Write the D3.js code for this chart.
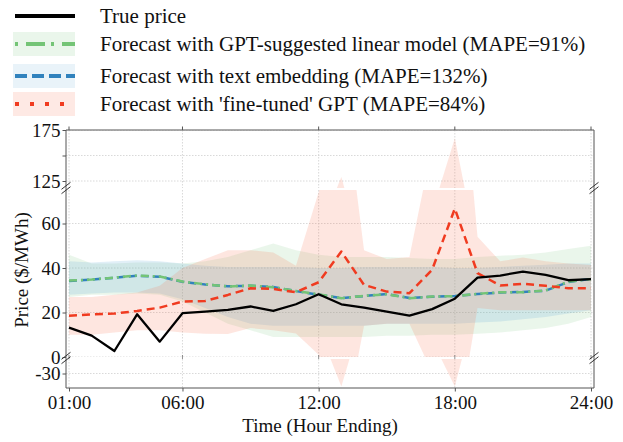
<!DOCTYPE html>
<html><head><meta charset="utf-8">
<script src="https://cdn.jsdelivr.net/npm/d3@7"></script>
<style>
html,body{margin:0;padding:0;background:#fff;}
svg{display:block;font-family:"Liberation Serif","Times New Roman",serif;}
</style></head>
<body><svg id="c" width="623" height="442"></svg>
<script>
const hours = d3.range(1, 25);
const xTickValues = [1, 6, 12, 18, 24];
const xTickLabels = ["01:00", "06:00", "12:00", "18:00", "24:00"];

const truePrice = [13.2, 9.6, 2.7, 19.2, 6.9, 19.7, 20.4, 21.2, 22.7, 20.7, 23.7, 28.2, 23.7, 22.2, 20.4, 18.6, 21.5, 26.2, 35.7, 36.6, 38.4, 36.9, 34.5, 35.0];

const gptLinear   = [34.4, 34.8, 35.7, 36.6, 36.2, 33.9, 32.7, 31.7, 32.1, 31.4, 29.7, 28.2, 26.4, 27.5, 28.2, 26.4, 27.2, 27.3, 28.4, 29.1, 29.1, 29.9, 33.9, 35.0];
const gptLinearLo = [27, 28, 28, 28.5, 28, 25, 20, 15, 12, 9, 9, 9, 9, 9, 9.5, 9.5, 10, 10, 10.5, 11, 12, 13, 15, 18];
const gptLinearHi = [46, 42, 42, 42.5, 42.5, 42, 43, 45, 48, 51, 48, 46, 45, 45, 45, 44.5, 44, 44, 45, 45.5, 46, 47, 48.5, 50];

const embedding   = [34.2, 34.8, 35.6, 36.5, 36.1, 33.8, 32.6, 31.8, 32.0, 31.5, 29.6, 28.0, 26.5, 27.4, 28.3, 26.5, 27.1, 27.4, 28.3, 29.0, 29.2, 29.8, 33.7, 35.1];
const embeddingLo = [28, 28.5, 29, 29, 28.5, 26, 22, 18, 15, 14, 14, 14, 14, 14, 15, 15, 15, 15, 15.5, 16, 17, 18, 19.5, 21];
const embeddingHi = [43, 42.5, 43, 43.5, 43, 42, 41, 40.5, 40.5, 40.5, 40.5, 40, 40, 40.5, 40.5, 40.5, 40.5, 40, 40, 40.5, 41, 41.5, 42, 42];

const fineTuned   = [18.5, 19.2, 19.5, 20.7, 22.2, 24.9, 25.2, 27.9, 30.9, 30.6, 29.1, 33.6, 47.4, 32.4, 29.4, 28.7, 39.2, 66.7, 37.7, 32.1, 32.9, 32.0, 30.9, 30.9];
const fineTunedLo = [10, 10, 11, 12, 12, 11, 10.5, 10.3, 13, 12, 10.6, 1, -39, 14, 15, 15, -7, -39, 22, 21, 21, 21, 21, 21];
const fineTunedHi = [27, 27, 28, 29, 32, 40, 44, 48, 48, 47, 41, 74, 129, 48, 44, 45, 95, 167, 54, 43, 44.7, 43, 42, 41.4];

const legendLabels = ["True price", "Forecast with GPT-suggested linear model (MAPE=91%)", "Forecast with text embedding (MAPE=132%)", "Forecast with 'fine-tuned' GPT (MAPE=84%)"];

const svg = d3.select("#c");
const X0 = 66, X1 = 594;
const x = d3.scaleLinear().domain([1, 24]).range([69, 591]);

const panels = [
  {id: "top", y: d3.scaleLinear().domain([125, 175]).range([181, 130]), clip: [130, 188], ticks: [125, 150, 175], labels: {125: "125", 175: "175"}},
  {id: "mid", y: d3.scaleLinear().domain([0, 60]).range([357, 223.5]), clip: [190, 357], ticks: [0, 20, 40, 60], labels: {0: "0", 20: "20", 40: "40", 60: "60"}},
  {id: "bot", y: d3.scaleLinear().domain([-40, -20]).range([388, 359]), clip: [359, 388], ticks: [-30], labels: {"-30": "-30"}}
];

const bands = [
  {lo: gptLinearLo, hi: gptLinearHi, color: "#74c476", op: 0.15},
  {lo: embeddingLo, hi: embeddingHi, color: "#6baed6", op: 0.2},
  {lo: fineTunedLo, hi: fineTunedHi, color: "#fb6a4a", op: 0.17}
];
const lines = [
  {v: embedding, color: "#3182bd", dash: "8,4", w: 2.5},
  {v: gptLinear, color: "#74c476", dash: "8,4,2,4", w: 2.5},
  {v: fineTuned, color: "#f03b20", dash: "8,5", w: 2.5},
  {v: truePrice, color: "#000", dash: null, w: 2.3}
];

const defs = svg.append("defs");
const grid = "#cfcfcf";

panels.forEach(p => {
  defs.append("clipPath").attr("id", "clip-" + p.id)
    .append("rect").attr("x", X0).attr("y", p.clip[0]).attr("width", X1 - X0).attr("height", p.clip[1] - p.clip[0]);
  const g = svg.append("g").attr("clip-path", "url(#clip-" + p.id + ")");
  xTickValues.forEach(t => g.append("line").attr("x1", x(t)).attr("x2", x(t)).attr("y1", p.clip[0]).attr("y2", p.clip[1])
    .attr("stroke", grid).attr("stroke-width", 0.8).attr("stroke-dasharray", "1.5,1.5"));
  p.ticks.forEach(t => g.append("line").attr("x1", X0).attr("x2", X1).attr("y1", p.y(t)).attr("y2", p.y(t))
    .attr("stroke", grid).attr("stroke-width", 0.8).attr("stroke-dasharray", "1.5,1.5"));
  bands.forEach(b => {
    const area = d3.area().x((d, i) => x(hours[i])).y0((d, i) => p.y(b.lo[i])).y1((d, i) => p.y(b.hi[i]));
    g.append("path").attr("d", area(hours)).attr("fill", b.color).attr("fill-opacity", b.op);
  });
  lines.forEach(l => {
    const ln = d3.line().x((d, i) => x(hours[i])).y((d, i) => p.y(l.v[i]));
    g.append("path").attr("d", ln(hours)).attr("fill", "none").attr("stroke", l.color)
      .attr("stroke-width", l.w).attr("stroke-dasharray", l.dash).attr("stroke-linejoin", "round");
  });
  const ax = svg.append("g").attr("transform", `translate(${X0},0)`)
    .call(d3.axisLeft(p.y).tickValues(p.ticks).tickSize(3.5).tickPadding(2)
      .tickFormat(d => p.labels[d] !== undefined ? p.labels[d] : ""));
  ax.select(".domain").remove();
  ax.selectAll(".tick line").attr("stroke", "#555");
  ax.selectAll("text").attr("font-size", 19).attr("fill", "#111")
    .attr("font-family", "Liberation Serif, serif");
});

const spine = "#555";
svg.append("line").attr("x1", X0).attr("x2", X0).attr("y1", 130).attr("y2", 388).attr("stroke", spine).attr("stroke-width", 1);
svg.append("line").attr("x1", X1).attr("x2", X1).attr("y1", 130).attr("y2", 388).attr("stroke", spine).attr("stroke-width", 1);
svg.append("line").attr("x1", X0).attr("x2", X1).attr("y1", 130).attr("y2", 130).attr("stroke", spine).attr("stroke-width", 1);

const xa = svg.append("g").attr("transform", "translate(0,388)")
  .call(d3.axisBottom(x).tickValues(xTickValues).tickSize(3.5).tickPadding(4).tickFormat((d, i) => xTickLabels[i]));
xa.select(".domain").attr("d", `M${X0},0H${X1}`).attr("stroke", spine);
xa.selectAll(".tick line").attr("stroke", spine);
xa.selectAll("text").attr("font-size", 19).attr("fill", "#111").attr("font-family", "Liberation Serif, serif");
xTickValues.forEach(t => {
  svg.append("line").attr("x1", x(t)).attr("x2", x(t)).attr("y1", 126.5).attr("y2", 130).attr("stroke", spine);
  svg.append("line").attr("x1", x(t)).attr("x2", x(t)).attr("y1", 355).attr("y2", 359).attr("stroke", "#777").attr("stroke-width", 0.8);
});

[[X0, 188], [X0, 358], [X1, 188], [X1, 358]].forEach(([bx, by]) => {
  [-2.2, 2.2].forEach(o => {
    svg.append("line").attr("x1", bx - 4.5).attr("y1", by + o + 3.5).attr("x2", bx + 4.5).attr("y2", by + o - 3.5)
      .attr("stroke", "#333").attr("stroke-width", 1);
  });
});

svg.append("text").attr("x", 320).attr("y", 432).attr("text-anchor", "middle").attr("font-size", 19).attr("fill", "#111")
  .text("Time (Hour Ending)");
svg.append("text").attr("transform", "translate(28,270) rotate(-90)").attr("text-anchor", "middle").attr("font-size", 19).attr("fill", "#111")
  .text("Price ($/MWh)");

const leg = [
  {y: 16, color: "#000", dash: null, patch: null},
  {y: 44, color: "#74c476", dash: "3,8,19,6", patch: "#74c476"},
  {y: 76, color: "#3182bd", dash: "12,5", patch: "#6baed6"},
  {y: 104, color: "#f03b20", dash: "4,11", patch: "#fb6a4a"}
];
leg.forEach((l, i) => {
  if (l.patch) svg.append("rect").attr("x", 13).attr("y", l.y - 12).attr("width", 62).attr("height", 24)
    .attr("fill", l.patch).attr("fill-opacity", 0.15);
  svg.append("line").attr("x1", 15).attr("x2", 75).attr("y1", l.y).attr("y2", l.y).attr("stroke", l.color)
    .attr("stroke-width", 4).attr("stroke-dasharray", l.dash);
  svg.append("text").attr("x", 100).attr("y", l.y + 7).attr("font-size", 21).attr("fill", "#111").text(legendLabels[i]);
});
</script></body></html>
